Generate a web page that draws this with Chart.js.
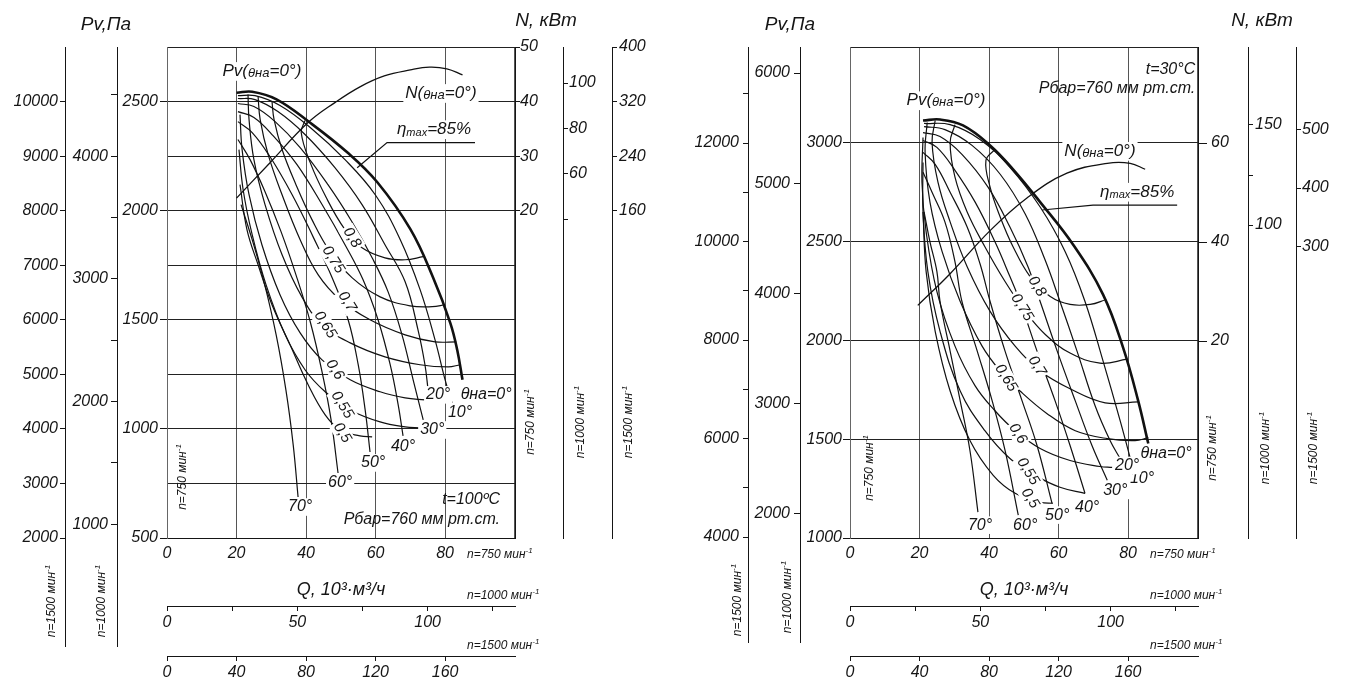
<!DOCTYPE html>
<html lang="ru">
<head>
<meta charset="UTF-8">
<title>Аэродинамические характеристики</title>
<script src="https://cdn.jsdelivr.net/npm/chart.js"></script>
<style>
  html, body { margin: 0; padding: 0; background: #fff; }
  #wrap { position: relative; width: 1348px; height: 684px; }
  canvas { position: absolute; top: 0; }
</style>
</head>
<body>
<div id="wrap">
  <canvas id="chartLeft" width="674" height="684" style="left:0"></canvas>
  <canvas id="chartRight" width="674" height="684" style="left:674px"></canvas>
</div>
<script>
// ---- data: Q in 10^3 m3/h, Pv in Pa, N in kW (all at n=750 min-1) ----
const angleNames = ['θна=0°', '10°', '20°', '30°', '40°', '50°', '60°', '70°'];
const effNames = ['0,8', '0,75', '0,7', '0,65', '0,6', '0,55', '0,5'];

// left chart, t=100 °C
const leftAngleQ = [
  [20, 24.5, 31.5, 41, 52, 60.5, 70, 76.5, 81.5, 83.5, 85],
  [20.4, 25.3, 32.5, 41.2, 51.2, 59.9, 67.1, 72.8, 77.1, 80.0, 82.0],
  [20.4, 25.3, 31.9, 39.7, 48.3, 56.1, 62.7, 68.5, 72.2, 74.2, 75.1],
  [20.4, 25.0, 31.1, 38.3, 46.3, 53.2, 59.0, 63.6, 67.6, 70.8, 73.7],
  [20.4, 25.0, 30.5, 37.4, 44.6, 51.2, 56.4, 60.7, 64.2, 66.5, 67.9],
  [20.4, 24.5, 29.6, 36.0, 42.0, 47.5, 52.1, 55.0, 57.0, 58.4],
  [20.4, 23.9, 28.2, 32.8, 37.1, 41.2, 44.6, 47.2, 49.2],
  [21.3, 24.5, 27.9, 31.4, 34.2, 36.3, 37.7]
];
const leftAnglePv = [
  [2540, 2545, 2510, 2405, 2265, 2130, 1915, 1695, 1485, 1360, 1225],
  [2527, 2527, 2482, 2381, 2234, 2073, 1867, 1638, 1408, 1225, 1119],
  [2514, 2509, 2454, 2349, 2197, 2028, 1844, 1674, 1454, 1294, 1179],
  [2491, 2477, 2408, 2289, 2119, 1949, 1784, 1628, 1431, 1225, 1041],
  [2454, 2427, 2344, 2211, 2028, 1844, 1683, 1500, 1294, 1110, 968],
  [2408, 2358, 2248, 2073, 1881, 1693, 1500, 1294, 1087, 894],
  [2326, 2234, 2087, 1904, 1706, 1491, 1261, 1041, 798],
  [2028, 1867, 1674, 1431, 1179, 927, 688]
];
const leftEffQ = [
  [39.7, 38.6, 41.2, 45.8, 51.2, 56.1, 62.7, 68.5, 73.7],
  [30.2, 30.8, 33.1, 37.1, 41.7, 46.9, 53.2, 61.3, 69.9, 76.3, 80.0],
  [26.2, 26.8, 29.1, 33.1, 38.3, 43.5, 49.8, 58.4, 68.5, 77.1, 83.2],
  [23.3, 23.6, 25.0, 28.2, 33.1, 38.8, 44.6, 52.7, 62.7, 72.8, 80.9, 84.3],
  [21.0, 21.6, 23.6, 27.3, 32.5, 38.3, 44.6, 52.7, 61.3, 68.5, 74.2],
  [20.7, 21.9, 24.5, 28.5, 34.0, 39.7, 45.5, 52.7, 61.3, 68.5, 72.8],
  [21.0, 23.0, 26.2, 30.2, 35.4, 40.6, 45.5, 49.8, 55.5, 59.0]
];
const leftEffPv = [
  [2413, 2358, 2220, 2060, 1913, 1830, 1784, 1775, 1789],
  [2500, 2417, 2280, 2119, 1959, 1812, 1693, 1605, 1564, 1560, 1569],
  [2523, 2417, 2257, 2073, 1867, 1706, 1592, 1500, 1431, 1399, 1399],
  [2532, 2417, 2234, 2028, 1798, 1605, 1477, 1394, 1330, 1294, 1284, 1294],
  [2440, 2280, 2073, 1844, 1615, 1440, 1316, 1225, 1170, 1142, 1133],
  [2280, 2096, 1890, 1660, 1431, 1271, 1170, 1087, 1032, 1009, 1005],
  [2119, 1913, 1752, 1569, 1385, 1202, 1064, 995, 968, 963]
];
const leftPowerQ = [20, 29.5, 40.5, 48.5, 55.5, 62.5, 70, 75.5, 80.5, 85];
const leftPowerN = [22.3, 28.7, 36.1, 39.9, 42.7, 44.7, 45.8, 46.3, 46.0, 44.9];
const leftEtaQ = [54.7, 63.3, 88.6];
const leftEtaPv = [2197, 2312, 2312];
const leftEffLabelQ = [53.2, 47.8, 51.8, 45.5, 48.3, 50.4, 50.4];
const leftEffLabelPv = [1876, 1775, 1583, 1477, 1271, 1110, 982];
const leftAngleLabelQ = [91.8, 84.3, 78.0, 76.3, 67.9, 59.3, 49.8, 38.3];
const leftAngleLabelPv = [1156, 1073, 1156, 995, 917, 844, 752, 642];
const leftTextQ = [27.3, 78.8, 76.8];      // Pv(...), N(...), ηmax
const leftTextPv = [2638, 2537, 2371];
const leftNoteQ = 95.8;
const leftNotePv = [674, 583];

// right chart, t=30 °C
const rightAngleQ = [
  [21.0, 25.9, 32.5, 40.3, 46.9, 54.7, 64.2, 72.8, 78.6, 82.9, 85.8],
  [21.3, 28.8, 37.4, 46.0, 54.7, 61.9, 67.6, 72.8, 77.7, 81.4],
  [21.3, 27.3, 35.1, 43.2, 50.4, 56.1, 60.4, 65.3, 70.5, 74.8, 77.7],
  [21.0, 25.9, 32.2, 39.7, 46.0, 51.2, 54.7, 59.6, 64.8, 69.6, 74.0],
  [21.0, 25.0, 30.2, 36.0, 41.7, 46.0, 48.9, 53.8, 59.0, 63.3, 67.6],
  [21.0, 24.5, 28.8, 33.7, 37.4, 40.3, 44.6, 49.5, 53.8, 58.1],
  [21.0, 23.6, 27.3, 30.2, 32.2, 36.6, 40.9, 44.6, 48.4],
  [21.3, 23.0, 25.0, 25.9, 28.8, 31.7, 34.5, 36.8]
];
const rightAnglePv = [
  [3113, 3118, 3088, 2987, 2866, 2700, 2484, 2232, 1961, 1694, 1478],
  [3098, 3092, 3017, 2876, 2675, 2449, 2197, 1895, 1594, 1352],
  [3082, 3067, 2987, 2841, 2640, 2408, 2197, 1946, 1669, 1493, 1402],
  [3052, 3032, 2942, 2776, 2574, 2373, 2197, 1946, 1694, 1468, 1292],
  [3012, 2977, 2861, 2700, 2499, 2323, 2197, 1946, 1694, 1468, 1226],
  [2952, 2891, 2750, 2574, 2388, 2197, 1946, 1694, 1468, 1176],
  [2851, 2750, 2600, 2398, 2197, 1946, 1694, 1443, 1116],
  [2650, 2499, 2348, 2197, 1946, 1694, 1443, 1131]
];
const rightEffQ = [
  [41.7, 39.1, 40.3, 43.2, 46.9, 51.8, 57.6, 63.3, 69.1, 73.7],
  [30.2, 28.8, 30.2, 33.7, 38.8, 44.6, 50.4, 56.1, 63.3, 71.9, 79.7],
  [24.5, 23.6, 25.3, 28.8, 33.7, 40.3, 47.5, 54.7, 63.3, 73.4, 82.9],
  [22.2, 21.6, 23.0, 26.5, 31.7, 38.0, 43.2, 48.9, 56.7, 64.8, 74.0, 82.0, 85.8],
  [21.0, 20.7, 21.9, 25.0, 30.2, 36.0, 41.7, 47.5, 54.7, 63.3, 71.9, 75.4],
  [21.0, 21.0, 22.4, 25.9, 31.7, 38.8, 46.0, 53.2, 60.4, 67.6],
  [21.0, 21.9, 24.5, 28.8, 34.5, 41.2, 47.5, 54.7, 58.4]
];
const rightEffPv = [
  [2967, 2911, 2776, 2625, 2474, 2323, 2222, 2182, 2182, 2207],
  [3092, 3002, 2826, 2650, 2474, 2298, 2147, 2031, 1936, 1885, 1905],
  [3113, 3002, 2801, 2600, 2373, 2147, 1971, 1845, 1755, 1684, 1689],
  [3103, 2952, 2700, 2449, 2197, 1971, 1845, 1744, 1629, 1543, 1503, 1493, 1508],
  [3027, 2801, 2549, 2247, 1971, 1770, 1644, 1543, 1453, 1392, 1362, 1357],
  [2901, 2650, 2348, 2046, 1744, 1543, 1402, 1317, 1257, 1226],
  [2650, 2348, 2046, 1744, 1493, 1317, 1226, 1181, 1176]
];
const rightPowerQ = [19.5, 28.8, 40.3, 50.9, 62.4, 74, 80.6, 84.9];
const rightPowerN = [27.2, 33.6, 42.3, 48.9, 53.9, 55.9, 55.9, 54.7];
const rightEtaQ = [55.3, 69.9, 94.1];
const rightEtaPv = [2660, 2685, 2685];
const rightEffLabelQ = [53.8, 49.5, 53.8, 44.9, 48.3, 51.2, 51.8];
const rightEffLabelPv = [2273, 2167, 1870, 1810, 1528, 1337, 1201];
const rightAngleLabelQ = [90.9, 84.0, 79.7, 76.3, 68.2, 59.6, 50.4, 37.4];
const rightAngleLabelPv = [1428, 1302, 1367, 1241, 1156, 1116, 1065, 1065];
const rightTextQ = [27.6, 71.9, 82.6];
const rightTextPv = [3213, 2957, 2750];
const rightNoteQ = 99.3;
const rightNotePv = [3369, 3274];

// ---- axes: ranges, ticks and labels ----
const qRange = [0, 100.1], q1000Range = [0, 133.5], q1500Range = [0, 200.2];
const qTicks = [0, 20, 40, 60, 80, 100], qLabels = [0, 20, 40, 60, 80];
const q1000Ticks = [0, 25, 50, 75, 100, 125], q1000Labels = [0, 50, 100];
const q1500Ticks = [0, 40, 80, 120, 160];

const leftPvRange = [500, 2750];
const leftPvTicks = [500, 750, 1000, 1250, 1500, 1750, 2000, 2250, 2500, 2750];
const leftPvLabels = [500, 1000, 1500, 2000, 2500];
const leftPv1000Range = [888.9, 4888.9];
const leftPv1000Ticks = [1000, 1500, 2000, 2500, 3000, 3500, 4000, 4500];
const leftPv1000Labels = [1000, 2000, 3000, 4000];
const leftPv1500Range = [2000, 11000];
const leftPv1500Ticks = [2000, 3000, 4000, 5000, 6000, 7000, 8000, 9000, 10000];
const leftN750Range = [-40, 50], leftN750Ticks = [20, 30, 40, 50];
const leftN1000Range = [-100.7, 115.9], leftN1000Ticks = [40, 60, 80, 100], leftN1000Labels = [60, 80, 100];
const leftN1500Range = [-320, 400], leftN1500Ticks = [160, 240, 320, 400];

const rightPvRange = [1000, 3485];
const rightPvTicks = [1000, 1500, 2000, 2500, 3000, 3485];
const rightPvLabels = [1000, 1500, 2000, 2500, 3000];
const rightPv1000Range = [1782, 6236], rightPv1000Ticks = [2000, 3000, 4000, 5000, 6000];
const rightPv1500Range = [3980, 13950];
const rightPv1500Ticks = [4000, 5000, 6000, 7000, 8000, 9000, 10000, 11000, 12000, 13000];
const rightPv1500Labels = [4000, 6000, 8000, 10000, 12000];
const rightN750Range = [-19.8, 79.4], rightN750Ticks = [20, 40, 60];
const rightN1000Range = [-56.5, 189], rightN1000Ticks = [100, 125, 150], rightN1000Labels = [100, 150];
const rightN1500Range = [-203, 643], rightN1500Ticks = [300, 400, 500];

// ---- drawing helpers ----
const INK = '#151515';
const FAMILY = '"Liberation Sans", Arial, sans-serif';
const fontSpec = s => ({ family: FAMILY, size: s, style: 'italic' });
const fontStr = s => 'italic ' + s + 'px ' + FAMILY;
const P = (t, s, dy) => ({ t, s, dy: dy || 0 });

function drawRich(ctx, parts, x, y, align, bg) {
  let w = 0;
  const widths = parts.map(p => { ctx.font = fontStr(p.s); const m = ctx.measureText(p.t).width; w += m; return m; });
  let sx = align === 'center' ? x - w / 2 : align === 'right' ? x - w : x;
  if (bg) {
    const h = Math.max(...parts.map(p => p.s));
    ctx.fillStyle = '#fff';
    ctx.fillRect(sx - 2, y - h * 0.55, w + 4, h * 1.1);
  }
  ctx.fillStyle = INK;
  ctx.textAlign = 'left';
  ctx.textBaseline = 'middle';
  parts.forEach((p, i) => { ctx.font = fontStr(p.s); ctx.fillText(p.t, sx, y + p.dy); sx += widths[i]; });
}

function speedLabel(rpm) {
  return [P('n=' + rpm + ' мин', 12), P('-1', 8, -4)];
}

function axis(pos, weight, range, ticks, labels, size, tick, pad, extra) {
  extra = extra || {};
  return {
    type: 'linear', position: pos, weight: weight, min: range[0], max: range[1],
    afterBuildTicks: s => { s.ticks = ticks.map(v => ({ value: v })); },
    afterFit: s => { if (pos === 'bottom') s.height = size; else s.width = size; },
    grid: {
      drawOnChartArea: !!extra.gridColor,
      color: extra.gridColor || INK,
      lineWidth: 1,
      drawTicks: tick > 0,
      tickLength: tick,
      tickColor: c => (!extra.marksOnLabels || (c.tick && labels.includes(c.tick.value))) ? INK : 'rgba(0,0,0,0)'
    },
    border: { display: true, color: extra.borderColor || INK, width: 1 },
    ticks: {
      autoSkip: false, maxRotation: 0, minRotation: 0, padding: pad, color: INK, font: fontSpec(16),
      callback: v => labels.includes(v) ? String(v) : ''
    },
    title: extra.title
      ? { display: true, text: extra.title, color: INK, font: fontSpec(18), padding: { top: 0, bottom: 5 } }
      : { display: false }
  };
}

function curve(qs, ys, width, yAxisID, tension) {
  return {
    data: qs.map((q, i) => ({ x: q, y: ys[i] })),
    xAxisID: 'x', yAxisID: yAxisID,
    borderColor: '#111', borderWidth: width,
    pointRadius: 0, fill: false,
    tension: tension === undefined ? 0.4 : tension
  };
}

function decor(p) {
  return {
    id: 'decor',
    afterDatasetsDraw(chart) {
      const ctx = chart.ctx, X = chart.scales.x, Y = chart.scales.y, area = chart.chartArea;
      ctx.save();
      // pressure scales for 1000 and 1500 min-1 run further down
      ctx.strokeStyle = INK;
      ctx.lineWidth = 1;
      ['yPv1000', 'yPv1500'].forEach(id => {
        const xx = Math.round(chart.scales[id].right) + 0.5;
        ctx.beginPath(); ctx.moveTo(xx, area.bottom); ctx.lineTo(xx, p.extendTo); ctx.stroke();
      });

      // efficiency labels along the contours
      effNames.forEach((name, i) => {
        ctx.save();
        ctx.translate(X.getPixelForValue(p.effLabelQ[i]), Y.getPixelForValue(p.effLabelPv[i]));
        ctx.rotate(58 * Math.PI / 180);
        drawRich(ctx, [P(name, 15)], 0, 0, 'center', true);
        ctx.restore();
      });
      // vane angle labels
      angleNames.forEach((name, i) => {
        drawRich(ctx, [P(name, 16)], X.getPixelForValue(p.angleLabelQ[i]), Y.getPixelForValue(p.angleLabelPv[i]), 'center', true);
      });
      // curve captions
      drawRich(ctx, [P('Pv(', 17), P('θна', 13, 2), P('=0°)', 17)],
        X.getPixelForValue(p.textQ[0]), Y.getPixelForValue(p.textPv[0]), 'center', true);
      drawRich(ctx, [P('N(', 17), P('θна', 13, 2), P('=0°)', 17)],
        X.getPixelForValue(p.textQ[1]), Y.getPixelForValue(p.textPv[1]), 'center', true);
      drawRich(ctx, [P('η', 17), P('max', 11, 3), P('=85%', 17)],
        X.getPixelForValue(p.textQ[2]), Y.getPixelForValue(p.textPv[2]), 'center', true);
      // operating conditions
      const nx = X.getPixelForValue(p.noteQ);
      drawRich(ctx, [P(p.tempText, 16)], nx, Y.getPixelForValue(p.notePv[0]), 'right', false);
      drawRich(ctx, [P('Рбар=760 мм рт.ст.', 16)], nx, Y.getPixelForValue(p.notePv[1]), 'right', false);

      // axis headers
      drawRich(ctx, [P('Pv,Па', 19)], p.pvTitle[0], p.pvTitle[1], 'center', false);
      drawRich(ctx, [P('N, кВт', 19)], p.nTitle[0], p.nTitle[1], 'center', false);

      // rotated speed labels
      p.rotLabels.forEach(r => {
        ctx.save();
        ctx.translate(r[0], r[1]);
        ctx.rotate(-Math.PI / 2);
        drawRich(ctx, speedLabel(r[2]), 0, 0, 'center', false);
        ctx.restore();
      });
      // speed labels for the flow scales
      const lx = area.right - 48;
      drawRich(ctx, speedLabel(750), lx, area.bottom + 17, 'left', false);
      drawRich(ctx, speedLabel(1000), lx, chart.scales.x1000.top - 10, 'left', false);
      drawRich(ctx, speedLabel(1500), lx, chart.scales.x1500.top - 10, 'left', false);
      ctx.restore();
    }
  };
}

function buildPanel(canvasId, p) {
  const datasets = [];
  p.effQ.forEach((qs, i) => datasets.push(curve(qs, p.effPv[i], 1.2, 'y')));
  p.angleQ.forEach((qs, i) => { if (i > 0) datasets.push(curve(qs, p.anglePv[i], 1.2, 'y')); });
  datasets.push(curve(p.powerQ, p.powerN, 1.3, 'yN'));
  datasets.push(curve(p.etaQ, p.etaPv, 1.2, 'y', 0));
  datasets.push(curve(p.angleQ[0], p.anglePv[0], 2.6, 'y'));

  const a = p.axes;
  new Chart(document.getElementById(canvasId), {
    type: 'line',
    data: { datasets },
    options: {
      responsive: false,
      animation: false,
      events: [],
      layout: { padding: { top: 47, left: 0, right: 0, bottom: 0 }, autoPadding: false },
      plugins: { legend: { display: false }, tooltip: { enabled: false } },
      scales: {
        x: axis('bottom', 0, qRange, qTicks, qLabels, 68, 0, 6, { gridColor: '#555', title: 'Q, 10³·м³/ч' }),
        x1000: axis('bottom', 1, q1000Range, q1000Ticks, q1000Labels, 50, 5, 2),
        x1500: axis('bottom', 2, q1500Range, q1500Ticks, q1500Ticks, 28, 5, 2),
        y: axis('left', 0, a.pv[0], a.pv[1], a.pv[2], 50, 7, a.pv[3], { gridColor: '#222', marksOnLabels: true, borderColor: '#666' }),
        yPv1000: axis('left', 1, a.pv1000[0], a.pv1000[1], a.pv1000[2], 52, 6, a.pv1000[3]),
        yPv1500: axis('left', 2, a.pv1500[0], a.pv1500[1], a.pv1500[2], a.pv1500[4], 5, a.pv1500[3]),
        yN: axis('right', 0, a.n750[0], a.n750[1], a.n750[1], a.n750[3], a.n750[4], a.n750[2]),
        yN1000: axis('right', 1, a.n1000[0], a.n1000[1], a.n1000[2], a.n1000[4], 5, a.n1000[3]),
        yN1500: axis('right', 2, a.n1500[0], a.n1500[1], a.n1500[1], a.n1500[3], 5, a.n1500[2])
      }
    },
    plugins: [decor(p)]
  });
}

buildPanel('chartLeft', {
  angleQ: leftAngleQ, anglePv: leftAnglePv, effQ: leftEffQ, effPv: leftEffPv,
  powerQ: leftPowerQ, powerN: leftPowerN, etaQ: leftEtaQ, etaPv: leftEtaPv,
  effLabelQ: leftEffLabelQ, effLabelPv: leftEffLabelPv,
  angleLabelQ: leftAngleLabelQ, angleLabelPv: leftAngleLabelPv,
  textQ: leftTextQ, textPv: leftTextPv, noteQ: leftNoteQ, notePv: leftNotePv,
  tempText: 't=100ºC',
  axes: {
    pv: [leftPvRange, leftPvTicks, leftPvLabels, 2],
    pv1000: [leftPv1000Range, leftPv1000Ticks, leftPv1000Labels, 3],
    pv1500: [leftPv1500Range, leftPv1500Ticks, leftPv1500Ticks, 2, 65],
    n750: [leftN750Range, leftN750Ticks, 0, 48, 5],
    n1000: [leftN1000Range, leftN1000Ticks, leftN1000Labels, 1, 49],
    n1500: [leftN1500Range, leftN1500Ticks, 2, 62]
  },
  extendTo: 647,
  pvTitle: [106, 25], nTitle: [546, 21],
  rotLabels: [[52, 601, 1500], [102, 601, 1000], [183, 477, 750], [531, 422, 750], [581, 422, 1000], [629, 422, 1500]]
});

buildPanel('chartRight', {
  angleQ: rightAngleQ, anglePv: rightAnglePv, effQ: rightEffQ, effPv: rightEffPv,
  powerQ: rightPowerQ, powerN: rightPowerN, etaQ: rightEtaQ, etaPv: rightEtaPv,
  effLabelQ: rightEffLabelQ, effLabelPv: rightEffLabelPv,
  angleLabelQ: rightAngleLabelQ, angleLabelPv: rightAngleLabelPv,
  textQ: rightTextQ, textPv: rightTextPv, noteQ: rightNoteQ, notePv: rightNotePv,
  tempText: 't=30°C',
  axes: {
    pv: [rightPvRange, rightPvTicks, rightPvLabels, 1],
    pv1000: [rightPv1000Range, rightPv1000Ticks, rightPv1000Ticks, 4],
    pv1500: [rightPv1500Range, rightPv1500Ticks, rightPv1500Labels, 4, 74],
    n750: [rightN750Range, rightN750Ticks, 4, 50, 9],
    n1000: [rightN1000Range, rightN1000Ticks, rightN1000Labels, 2, 48],
    n1500: [rightN1500Range, rightN1500Ticks, 1, 52]
  },
  extendTo: 643,
  pvTitle: [116, 25], nTitle: [588, 21],
  rotLabels: [[64, 600, 1500], [114, 597, 1000], [196, 468, 750], [539, 448, 750], [592, 448, 1000], [640, 448, 1500]]
});
</script>
</body>
</html>
